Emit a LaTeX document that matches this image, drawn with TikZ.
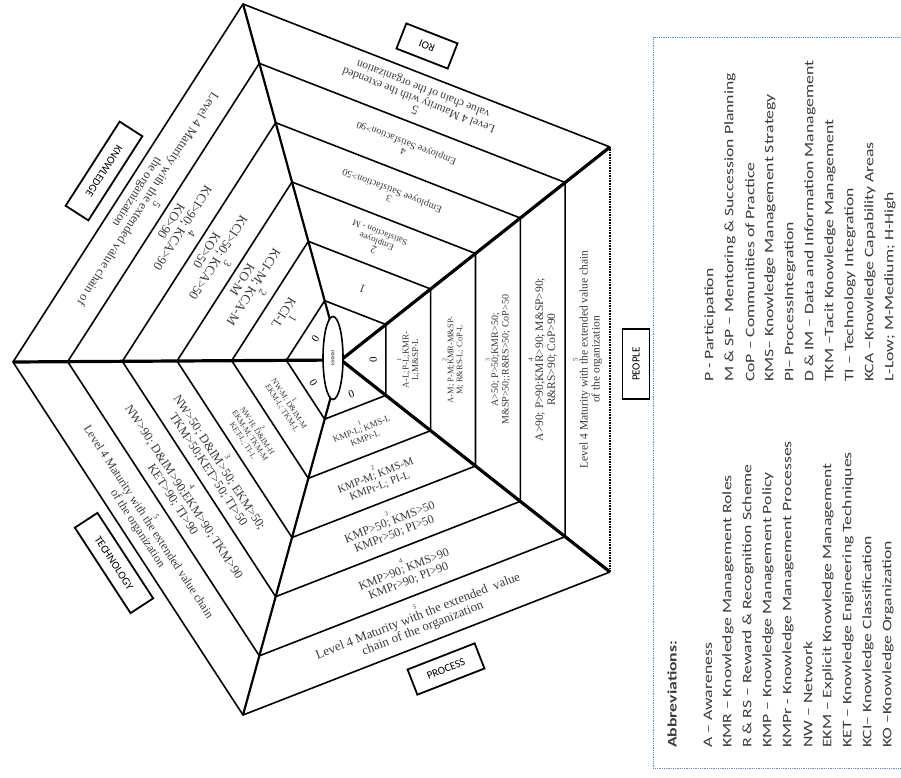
\documentclass[tikz,border=0pt]{standalone}
\usepackage{fontspec}
\setmainfont{Liberation Serif}
\newfontfamily\calfont{Carlito}
\usepackage{graphicx}
\usepackage{xcolor}
\usepackage{tikz}
\usetikzlibrary{shapes.geometric, calc}
\definecolor{legendblue}{HTML}{5B8FD6}
\definecolor{inkgray}{HTML}{3A3A3A}
\tikzstyle{ring} = [line width=1.6pt, line join=miter]
\tikzstyle{spoke} = [line width=2.2pt]
\tikzstyle{heavyspoke} = [line width=3.2pt]
\tikzstyle{hub} = [ellipse, draw, fill=white, line width=1.6pt, minimum width=83pt, minimum height=20pt,
  inner sep=0pt, font=\fontsize{4.5}{5}\selectfont]
\tikzstyle{bandtxt} = [align=center, inner sep=0pt, text=inkgray]
\tikzstyle{zerolbl} = [inner sep=0pt, font=\fontsize{11}{11}\selectfont]
\tikzstyle{tagbox} = [rectangle, draw, line width=1.8pt, minimum height=27pt, inner sep=0pt,
  font=\calfont\fontsize{11}{11}\selectfont]
\tikzstyle{legline} = [anchor=west, rotate=90, inner sep=0pt, text=inkgray, font=\calfont\fontsize{13}{14}\selectfont]
\newcommand{\lvl}[2]{{\fontsize{#1}{#1}\selectfont #2}}
\newcommand{\wide}[1]{\scalebox{1.36}[1]{#1}}

\begin{document}
\begin{tikzpicture}[x=1pt, y=-1pt]
  \useasboundingbox (0,0) rectangle (901,778);
  % corners of the pentagon
  \coordinate (O) at (341,360);
  \coordinate (T) at (243,4);
  \coordinate (RT) at (610,147);
  \coordinate (RB) at (610,572);
  \coordinate (B) at (243,715);
  \coordinate (L) at (13,362);
  \coordinate (mPeo) at ($(RT)!0.5!(RB)$);
  \coordinate (mRoi) at ($(T)!0.5!(RT)$);
  \coordinate (mKno) at ($(L)!0.5!(T)$);
  \coordinate (mTec) at ($(L)!0.5!(B)$);
  \coordinate (mPro) at ($(B)!0.5!(RB)$);

  % levels
  \draw[ring] ($(O)!1/6!(T)$) -- ($(O)!1/6!(RT)$) -- ($(O)!1/6!(RB)$) -- ($(O)!1/6!(B)$) -- ($(O)!1/6!(L)$) -- cycle;
  \draw[ring] ($(O)!2/6!(T)$) -- ($(O)!2/6!(RT)$) -- ($(O)!2/6!(RB)$) -- ($(O)!2/6!(B)$) -- ($(O)!2/6!(L)$) -- cycle;
  \draw[ring] ($(O)!3/6!(T)$) -- ($(O)!3/6!(RT)$) -- ($(O)!3/6!(RB)$) -- ($(O)!3/6!(B)$) -- ($(O)!3/6!(L)$) -- cycle;
  \draw[ring] ($(O)!4/6!(T)$) -- ($(O)!4/6!(RT)$) -- ($(O)!4/6!(RB)$) -- ($(O)!4/6!(B)$) -- ($(O)!4/6!(L)$) -- cycle;
  \draw[ring] ($(O)!5/6!(T)$) -- ($(O)!5/6!(RT)$) -- ($(O)!5/6!(RB)$) -- ($(O)!5/6!(B)$) -- ($(O)!5/6!(L)$) -- cycle;
  \draw[ring] (RT) -- (T) -- (L) -- (B) -- (RB);
  \draw[ring, densely dotted] (RB) -- (RT);

  % spokes
  \draw[heavyspoke] (O) -- (L);
  \draw[heavyspoke] (O) -- (RT);
  \draw[heavyspoke] (O) -- (RB);
  \draw[spoke] (O) -- (T);
  \draw[spoke] (O) -- (B);
  \node[hub, rotate=90] (kmmm) at (333,358) {KMMM};

  % level 0
  \node[zerolbl, rotate=90] (peo0) at ($(O)!0.12!(mPeo)$) {0};
  \node[zerolbl, rotate=21.3] (pro0) at ($(O)!0.12!(mPro)$) {0};
  \node[zerolbl, rotate=-56.9] (tec0) at ($(O)!0.13!(mTec)$) {0};
  \node[zerolbl, rotate=237.3] (kno0) at ($(O)!0.12!(mKno)$) {0};

  % people
  \node[bandtxt, rotate=90, font=\fontsize{9}{9.5}\selectfont] (peo1) at ($(O)!0.25!(mPeo)$)
    {\lvl{6}{1}\\[-2pt] A-L;P-L;KMR-\\ L;M\&SP-L};
  \node[bandtxt, rotate=90, font=\fontsize{8.5}{9}\selectfont] (peo2) at ($(O)!0.4167!(mPeo)$)
    {\lvl{6}{2}\\[-2pt] A-M; P-M;KMR-M\&SP-\\ M; R\&RS-L; CoP-L};
  \node[bandtxt, rotate=90, font=\fontsize{10}{10.5}\selectfont] (peo3) at ($(O)!0.5833!(mPeo)$)
    {\lvl{6}{3}\\[-2pt] A>50; P>50;KMR>50;\\ M\&SP>50;;R\&RS>50; CoP>50};
  \node[bandtxt, rotate=90, font=\fontsize{11.5}{12}\selectfont] (peo4) at ($(O)!0.75!(mPeo)$)
    {\lvl{7}{4}\\[-2pt] A>90; P>90;KMR>90; M\&SP>90;\\ R\&RS>90; CoP>90};
  \node[bandtxt, rotate=90, font=\fontsize{11.5}{12}\selectfont] (peo5) at ($(O)!0.9167!(mPeo)$)
    {\lvl{7}{5}\\[-2pt] Level 4 Maturity with the extended value chain\\ of the organization};

  % process
  \node[bandtxt, rotate=21.3, font=\fontsize{9}{9.5}\selectfont] (pro1) at ($(O)!0.25!(mPro)$)
    {\lvl{6.5}{1}\\[-2pt] KMP-L; KMS-L\\ KMPr-L};
  \node[bandtxt, rotate=21.3, font=\fontsize{11}{11.5}\selectfont] (pro2) at ($(O)!0.4167!(mPro)$)
    {\lvl{6.5}{2}\\[-2pt] KMP-M; KMS-M\\ KMPr-L; PI-L};
  \node[bandtxt, rotate=21.3, font=\fontsize{12}{12.5}\selectfont] (pro3) at ($(O)!0.5833!(mPro)$)
    {\lvl{6.5}{3}\\[-2pt] KMP>50; KMS>50\\ KMPr>50; PI>50};
  \node[bandtxt, rotate=21.3, font=\fontsize{12}{12.5}\selectfont] (pro4) at ($(O)!0.75!(mPro)$)
    {\lvl{6.5}{4}\\[-2pt] KMP>90; KMS>90\\ KMPr>90; PI>90};
  \node[bandtxt, rotate=21.3, font=\fontsize{13}{13}\selectfont] (pro5) at ($(O)!0.9167!(mPro)$)
    {\lvl{6.5}{5}\\[-2pt] Level 4 Maturity with the extended\enspace value\\ chain of the organization};

  % technology
  \node[bandtxt, rotate=-56.9, font=\fontsize{8}{8.5}\selectfont] (tec1) at ($(O)!0.25!(mTec)$)
    {\lvl{7}{1}\\[-2pt] NW-M; D\&IM-M\\ EKM-L; TKM-L};
  \node[bandtxt, rotate=-56.9, font=\fontsize{8}{8.5}\selectfont] (tec2) at ($(O)!0.4167!(mTec)$)
    {\lvl{7}{2}\\[-2pt] NW-H; D\&IM-H\\ EKM-M; TKM-M\\ KET-L; TI-L};
  \node[bandtxt, rotate=-56.9, font=\fontsize{12.5}{13}\selectfont] (tec3) at ($(O)!0.5833!(mTec)$)
    {\lvl{8}{3}\\[-2pt] NW>50; D\&IM>50; EKM>50;\\ TKM>50;KET>50; TI>50};
  \node[bandtxt, rotate=-56.9, font=\fontsize{12.5}{13}\selectfont] (tec4) at ($(O)!0.75!(mTec)$)
    {\lvl{8}{4}\\[-2pt] NW>90; D\&IM>90;EKM>90; TKM>90\\ KET>90; TI>90};
  \node[bandtxt, rotate=-56.9, font=\fontsize{12}{12.5}\selectfont] (tec5) at ($(O)!0.9167!(mTec)$)
    {\lvl{8}{5}\\[-2pt] Level 4 Maturity with the extended value chain\\ of the organization};

  % knowledge
  \node[bandtxt, rotate=237.3, font=\fontsize{13}{13.5}\selectfont] (kno1) at ($(O)!0.25!(mKno)$)
    {\lvl{11}{1}\\[-2pt] KCI-L};
  \node[bandtxt, rotate=237.3, font=\fontsize{13}{13.5}\selectfont] (kno2) at ($(O)!0.4167!(mKno)$)
    {\lvl{11}{2}\\[-2pt] KCI-M; KCA-M\\ KO-M};
  \node[bandtxt, rotate=237.3, font=\fontsize{13}{13.5}\selectfont] (kno3) at ($(O)!0.5833!(mKno)$)
    {\lvl{11}{3}\\[-2pt] KCI>50; KCA>50\\ KO>50};
  \node[bandtxt, rotate=237.3, font=\fontsize{13}{13.5}\selectfont] (kno4) at ($(O)!0.75!(mKno)$)
    {\lvl{11}{4}\\[-2pt] KCI>90; KCA>90\\ KO>90};
  \node[bandtxt, rotate=237.3, font=\fontsize{12.5}{12.5}\selectfont] (kno5) at ($(O)!0.9167!(mKno)$)
    {\lvl{11}{5}\\[-2pt] Level 4 Maturity with the extended value chain of\\ the organization};

  % roi
  \node[bandtxt, rotate=158.7, font=\fontsize{12}{12.5}\selectfont] (roi1) at ($(O)!0.25!(mRoi)$) {1};
  \node[bandtxt, rotate=158.7, font=\fontsize{9}{9.5}\selectfont] (roi2) at ($(O)!0.4167!(mRoi)$)
    {\lvl{11}{2}\\[-2pt] Employee\\ Satisfaction - M};
  \node[bandtxt, rotate=158.7, font=\fontsize{10}{10.5}\selectfont] (roi3) at ($(O)!0.5833!(mRoi)$)
    {\lvl{10}{3}\\[-2pt] Employee Satisfaction>50};
  \node[bandtxt, rotate=158.7, font=\fontsize{10}{10.5}\selectfont] (roi4) at ($(O)!0.75!(mRoi)$)
    {\lvl{10}{4}\\[-2pt] Employee Satisfaction>90};
  \node[bandtxt, rotate=158.7, font=\fontsize{11.5}{12}\selectfont] (roi5) at ($(O)!0.9167!(mRoi)$)
    {\lvl{13}{5}\\[-2pt] Level 4 Maturity with the extended\\ value chain of the organization};

  % dimension tags
  \node[tagbox, rotate=90, minimum width=70pt] (people) at (636,364) {PEOPLE};
  \node[tagbox, rotate=21.3, minimum width=72pt] (process) at (446,669) {PROCESS};
  \node[tagbox, rotate=-56.9, minimum width=102pt] (technology) at (114,563) {TECHNOLOGY};
  \node[tagbox, rotate=237.3, minimum width=100pt] (knowledge) at (104,171) {KNOWLEDGE};
  \node[tagbox, rotate=158.7, minimum width=55pt] (roi) at (427,46) {ROI};

  % abbreviations
  \draw[legendblue, line width=0.8pt, densely dotted] (901,37) -- (653,37) -- (653,768) -- (901,768);
  \node[legline, font=\calfont\bfseries\fontsize{13}{14}\selectfont] (abbr) at (672,748) {\wide{Abbreviations:}};
  \node[legline] (lgA) at (708,748) {\wide{A – Awareness}};
  \node[legline] (lgKMR) at (728,748) {\wide{KMR – Knowledge Management Roles}};
  \node[legline] (lgRRS) at (748,748) {\wide{R \& RS – Reward \& Recognition Scheme}};
  \node[legline] (lgKMP) at (768,748) {\wide{KMP – Knowledge Management Policy}};
  \node[legline] (lgKMPr) at (788,748) {\wide{KMPr - Knowledge Management Processes}};
  \node[legline] (lgNW) at (808,748) {\wide{NW – Network}};
  \node[legline] (lgEKM) at (828,748) {\wide{EKM – Explicit Knowledge Management}};
  \node[legline] (lgKET) at (848,748) {\wide{KET – Knowledge Engineering Techniques}};
  \node[legline] (lgKCI) at (868,748) {\wide{KCI– Knowledge Classification}};
  \node[legline] (lgKO) at (888,748) {\wide{KO –Knowledge Organization}};
  \node[legline] (lgP) at (710,382) {\wide{P - Participation}};
  \node[legline] (lgMSP) at (730,382) {\wide{M \& SP – Mentoring \& Succession Planning}};
  \node[legline] (lgCoP) at (750,382) {\wide{CoP – Communities of Practice}};
  \node[legline] (lgKMS) at (770,382) {\wide{KMS– Knowledge Management Strategy}};
  \node[legline] (lgPI) at (790,382) {\wide{PI– ProcessIntegration}};
  \node[legline] (lgDIM) at (810,382) {\wide{D \& IM – Data and Information Management}};
  \node[legline] (lgTKM) at (830,382) {\wide{TKM –Tacit Knowledge Management}};
  \node[legline] (lgTI) at (850,382) {\wide{TI – Technology Integration}};
  \node[legline] (lgKCA) at (870,382) {\wide{KCA –Knowledge Capability Areas}};
  \node[legline] (lgLMH) at (890,382) {\wide{L-Low; M-Medium; H-High}};
\end{tikzpicture}
\end{document}
